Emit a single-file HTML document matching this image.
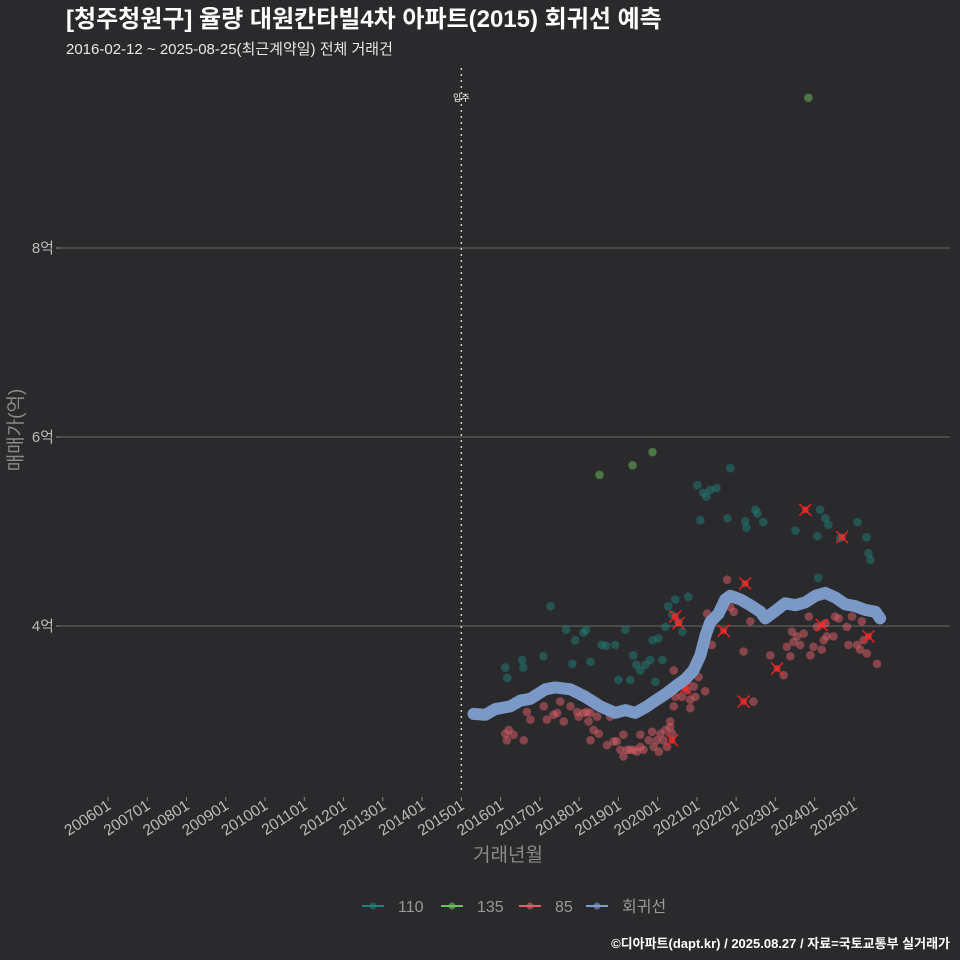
<!DOCTYPE html>
<html><head><meta charset="utf-8">
<style>
html,body{margin:0;padding:0;background:#2a2a2c;overflow:hidden;}
body{width:960px;height:960px;overflow:hidden;font-family:"Liberation Sans","Noto Sans CJK KR",sans-serif;}
svg{display:block;}
svg text{font-family:"Liberation Sans","Noto Sans CJK KR",sans-serif;}
</style></head>
<body>
<svg id="chart" width="960" height="960" xmlns="http://www.w3.org/2000/svg">
<rect width="960" height="960" fill="#2a2a2c"/>
<text x="66" y="27" fill="#ffffff" font-size="24" font-weight="bold">[청주청원구] 율량 대원칸타빌4차 아파트(2015) 회귀선 예측</text>
<text x="66" y="54" fill="#e8e8e8" font-size="15">2016-02-12 ~ 2025-08-25(최근계약일) 전체 거래건</text>
<g id="grid"></g>
<g id="axes"></g>
<g id="marks"></g>
<text x="508" y="861" fill="#8a8a8a" font-size="19" text-anchor="middle">거래년월</text>
<text transform="translate(22,430) rotate(-90)" fill="#8a8a8a" font-size="19" text-anchor="middle">매매가(억)</text>
<g id="legend"></g>
<text x="950" y="948" fill="#ffffff" font-size="13" font-weight="bold" text-anchor="end">©디아파트(dapt.kr) / 2025.08.27 / 자료=국토교통부 실거래가</text>
</svg>
<script>
const xTickLabels=["200601","200701","200801","200901","201001","201101","201201","201301","201401","201501","201601","201701","201801","201901","202001","202101","202201","202301","202401","202501"];
const yTicks=[4,6,8];
const yTickLabels=["4억","6억","8억"];
const moveInYear=2015;
const lineYears=[2015.31,2015.61,2015.86,2016.25,2016.5,2016.76,2017.14,2017.39,2017.78,2018.16,2018.54,2018.92,2019.18,2019.43,2019.69,2019.94,2020.2,2020.45,2020.71,2020.91,2021.09,2021.22,2021.34,2021.55,2021.72,2021.85,2022.11,2022.36,2022.62,2022.74,2023.0,2023.25,2023.51,2023.76,2024.02,2024.27,2024.53,2024.78,2025.04,2025.29,2025.55,2025.67];
const lineValues=[3.07,3.06,3.12,3.15,3.21,3.23,3.33,3.35,3.33,3.25,3.15,3.08,3.11,3.08,3.14,3.21,3.28,3.36,3.44,3.53,3.69,3.90,4.04,4.13,4.28,4.32,4.28,4.22,4.15,4.08,4.16,4.24,4.22,4.25,4.32,4.35,4.30,4.23,4.21,4.17,4.15,4.08];
const s135Years=[2018.52,2019.36,2019.87,2023.84];
const s135Values=[5.60,5.70,5.84,9.59];
const s110Years=[2016.12,2016.17,2016.55,2016.58,2017.09,2017.27,2017.67,2017.83,2017.9,2018.11,2018.18,2018.29,2018.57,2018.69,2018.92,2019.0,2019.18,2019.3,2019.38,2019.46,2019.56,2019.69,2019.81,2019.87,2019.94,2020.02,2020.12,2020.2,2020.27,2020.37,2020.45,2020.53,2020.63,2020.78,2021.01,2021.09,2021.16,2021.24,2021.34,2021.5,2021.78,2021.85,2022.23,2022.26,2022.49,2022.54,2022.69,2023.51,2024.07,2024.14,2024.27,2024.35,2024.65,2025.09,2025.32,2025.37,2025.42,2024.09];
const s110Values=[3.56,3.45,3.64,3.56,3.68,4.21,3.96,3.60,3.85,3.93,3.96,3.62,3.80,3.79,3.80,3.43,3.96,3.43,3.69,3.59,3.53,3.59,3.64,3.85,3.41,3.87,3.64,3.99,4.21,4.12,4.28,4.04,3.94,4.31,5.49,5.12,5.41,5.37,5.44,5.46,5.14,5.67,5.11,5.04,5.23,5.19,5.10,5.01,4.95,5.23,5.14,5.07,4.93,5.10,4.94,4.77,4.70,4.51];
const s85Years=[2016.12,2016.16,2016.21,2016.33,2016.59,2016.67,2016.76,2017.1,2017.18,2017.35,2017.44,2017.52,2017.61,2017.78,2017.95,2017.99,2018.12,2018.2,2018.24,2018.29,2018.37,2018.46,2018.5,2018.29,2018.71,2018.79,2018.88,2018.96,2019.05,2019.13,2019.13,2019.22,2019.3,2019.39,2019.47,2019.56,2019.56,2019.64,2019.77,2019.86,2019.9,2019.98,2020.03,2020.07,2020.15,2020.2,2020.24,2020.32,2020.32,2020.37,2020.41,2020.45,2020.41,2020.62,2020.75,2020.83,2020.83,2020.92,2020.96,2021.04,2021.21,2021.26,2021.3,2021.38,2021.77,2021.85,2021.94,2022.19,2022.36,2022.44,2022.87,2023.21,2023.29,2023.38,2023.42,2023.46,2023.55,2023.63,2023.72,2023.85,2023.89,2023.97,2024.06,2024.23,2024.18,2024.31,2024.48,2024.52,2024.61,2024.82,2024.86,2024.95,2025.08,2025.16,2025.25,2025.33,2025.59,2025.2,2024.27];
const s85Values=[2.86,2.79,2.90,2.85,2.79,3.09,3.01,3.15,3.01,3.06,3.08,3.20,2.99,3.15,3.09,3.04,3.08,3.09,2.99,3.08,2.90,3.04,2.86,2.79,2.74,3.04,2.78,2.78,2.69,2.85,2.62,2.69,2.69,2.69,2.67,2.85,2.72,2.69,2.79,2.88,2.72,2.79,2.67,2.86,2.79,2.90,2.72,2.99,2.93,2.86,3.15,3.25,3.53,3.25,3.32,3.22,3.13,3.36,3.25,3.46,3.31,4.13,4.01,3.80,4.49,4.20,4.15,3.73,4.05,3.20,3.69,3.48,3.78,3.68,3.94,3.83,3.89,3.80,3.92,4.10,3.69,3.78,3.99,3.85,3.75,3.89,3.89,4.10,4.08,3.99,3.80,4.10,3.80,3.75,3.85,3.71,3.60,4.05,4.03];
const xMarkYears=[2020.45,2020.53,2021.68,2022.23,2022.19,2023.04,2024.18,2025.37,2020.7,2020.37,2023.76,2024.7];
const xMarkValues=[4.10,4.03,3.95,4.45,3.20,3.55,4.01,3.89,3.34,2.79,5.23,4.94];

const NS="http://www.w3.org/2000/svg";
const X0=108, PXY=39.26, Y4=626, PXV=94.5;
function xs(yr){return X0+(yr-2006)*PXY;}
function ys(v){return Y4-(v-4)*PXV;}
function mk(tag,attrs,parent){const e=document.createElementNS(NS,tag);for(const k in attrs)e.setAttribute(k,attrs[k]);parent.appendChild(e);return e;}
const grid=document.getElementById('grid'),axes=document.getElementById('axes'),marks=document.getElementById('marks'),legend=document.getElementById('legend');

yTicks.forEach((v,i)=>{
  const l=mk('line',{x1:60,x2:950,y1:ys(v),y2:ys(v),stroke:'#6a6a6a','stroke-width':1},grid);
  
  
  const t=mk('line',{x1:56,x2:60,y1:ys(v),y2:ys(v),stroke:'#888'},axes);
  
  
  const tx=mk('text',{x:54,y:ys(v)+5,fill:'#bbbbbb','font-size':15,'text-anchor':'end'},axes);
  tx.textContent=yTickLabels[i];
  
  
});
xTickLabels.forEach(lab=>{
  const yr=parseInt(lab.slice(0,4));
  const x=xs(yr);
  const t=mk('line',{x1:x,x2:x,y1:797,y2:801,stroke:'#888'},axes);
  
  
  const tx=mk('text',{transform:`translate(${x+4},${808}) rotate(-33)`,fill:'#bbbbbb','font-size':15.5,'text-anchor':'end'},axes);
  tx.textContent=lab;
  
  
});
const mv=mk('line',{x1:xs(moveInYear),x2:xs(moveInYear),y1:68,y2:792,stroke:'#cccccc','stroke-width':1.5,'stroke-dasharray':'2,4'},marks);


const mvt=mk('text',{x:xs(moveInYear),y:101,fill:'#ffffff','font-size':9,'text-anchor':'middle'},marks);
mvt.textContent='입주';



function scatter(yrs,vals,color,name){
  yrs.forEach((y,i)=>{
    const c=mk('circle',{cx:xs(y),cy:ys(vals[i]),r:4.3,fill:color,'fill-opacity':0.5},marks);
    
    
  });
}
scatter(s110Years,s110Values,'#1f8078','point-110');
scatter(s135Years,s135Values,'#6fbf5f','point-135');
scatter(s85Years,s85Values,'#e0606a','point-85');
xMarkYears.forEach((y,i)=>{
  const cx=xs(y),cy=ys(xMarkValues[i]);
  const g=mk('g',{},marks);
  
  
  mk('line',{x1:cx-6,y1:cy-6,x2:cx+6,y2:cy+6,stroke:'#ff2020','stroke-width':1.6,'stroke-opacity':0.85},g);
  mk('line',{x1:cx-6,y1:cy+6,x2:cx+6,y2:cy-6,stroke:'#ff2020','stroke-width':1.6,'stroke-opacity':0.85},g);
  mk('circle',{cx:cx,cy:cy,r:3.5,fill:'#ff3030','fill-opacity':0.6},g);
});
const d=lineYears.map((y,i)=>(i?'L':'M')+xs(y).toFixed(1)+','+ys(lineValues[i]).toFixed(1)).join(' ');
const rl=mk('path',{d:d,fill:'none',stroke:'#7f9fcf','stroke-width':12,'stroke-linejoin':'round','stroke-linecap':'round','stroke-opacity':0.95},marks);



const legItems=[["110","#1f8078",373],["135","#6fbf5f",452],["85","#e0606a",530],["회귀선","#7f9fcf",597]];
legItems.forEach(([lab,col,x])=>{
  const g=mk('g',{},legend);
  
  
  mk('line',{x1:x-11,x2:x+11,y1:906,y2:906,stroke:col,'stroke-width':2},g);
  mk('circle',{cx:x,cy:906,r:3.5,fill:col,'fill-opacity':0.6},g);
  const t=mk('text',{x:x+25,y:912,fill:'#999','font-size':16},g);
  t.textContent=lab;
});
</script>
</body></html>
